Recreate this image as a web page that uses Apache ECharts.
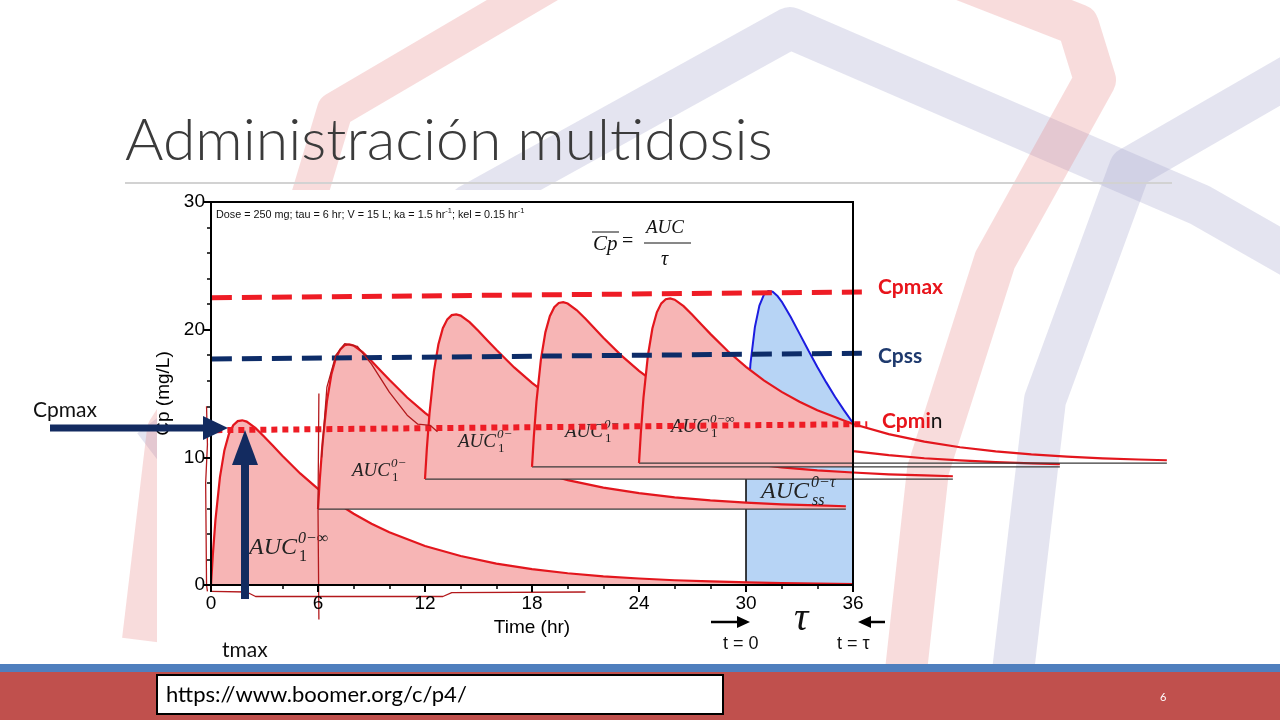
<!DOCTYPE html>
<html>
<head>
<meta charset="utf-8">
<title>Administración multidosis</title>
<script src="https://cdn.jsdelivr.net/npm/echarts@6/dist/echarts.min.js"></script>
<style>
  html, body { margin: 0; padding: 0; background: #fff; }
  #main { width: 1280px; height: 720px; }
</style>
</head>
<body>
<div id="main"></div>
<script>
// horas desde cada dosis y Cp de una dosis única
var offsets = [0, 0.1, 0.25, 0.5, 0.75, 1, 1.25, 1.5, 1.75, 2, 2.5, 3, 3.5, 4, 5, 6, 7, 8, 9, 10,
  12, 14, 16, 18, 20, 22, 24, 26, 28, 29.6, 30, 32, 34, 36];
var singleDose = [0, 2.30, 5.11, 8.43, 10.54, 11.81, 12.51, 12.84, 12.90, 12.80, 12.29, 11.60, 10.86, 10.12, 8.74, 7.53, 6.48, 5.58, 4.80, 4.13,
  3.06, 2.27, 1.68, 1.24, 0.92, 0.68, 0.51, 0.37, 0.28, 0.22, 0.21, 0.15, 0.11, 0.08];

// cada dosis: hora, nivel de base, duracion dibujada
var doseTimes = [0, 6, 12, 18, 24];
var doseBase = [0, 5.95, 8.3, 9.25, 9.55];
var doseEnd = [36, 29.6, 29.6, 29.6, 29.6];

// estado estacionario (30-36 h)
var ssTimes = [30, 30.25, 30.5, 30.75, 31, 31.25, 31.5, 31.75, 32, 32.5, 33, 33.5, 34, 34.5, 35, 35.5, 36];
var ssValues = [12.69, 17.33, 20.21, 21.88, 22.73, 23.03, 22.97, 22.66, 22.20, 21.01, 19.69, 18.37, 17.08, 15.87, 14.73, 13.68, 12.69];

// lineas de referencia
var cpmaxLine = [[0.05, 22.5], [36.5, 22.95]];
var cpssLine = [[0.05, 17.7], [36.5, 18.15]];
var cpminLine = [[0.3, 12.13], [36.8, 12.6]];

// trazos a mano (rojo)
var scribbleBottom = [[0, -0.5], [2, -0.55], [2.5, -0.9], [13, -0.9], [13.5, -0.6], [21, -0.55]];
var scribbleLeft = [[-0.25, 14], [-0.2, 11], [-0.3, 8], [-0.25, 0], [-0.2, -0.5]];
var scribbleDose2 = [[6.05, 15], [6, 6], [6.05, -2.7]];
var scribblePeak = [[6.2, 10], [6.5, 15.5], [7, 18.0], [7.5, 18.9], [8.2, 18.7], [9, 17.3], [10, 15.1], [11, 13.3], [11.6, 12.6], [12.3, 12.5], [12.7, 12.0]];

var RED = '#e3161d';
var NAVY = '#132b60';
var PINK = '#f7b5b5';
var chart = echarts.init(document.getElementById('main'));

function pairs(xs, ys) {
  return xs.map(function (x, i) { return [x, ys[i]]; });
}

function txt(x, y, text, font, fill, z) {
  return { type: 'text', z: z || 30,
    style: { text: text, x: x, y: y, font: font, fill: fill || '#000', verticalAlign: 'middle' } };
}

function auc(x, y, size, sup, sub, w) {
  var f = 'italic ' + size + 'px "Liberation Serif"';
  var fs = 'italic ' + Math.round(size * 0.68) + 'px "Liberation Serif"';
  var fn = Math.round(size * 0.68) + 'px "Liberation Serif"';
  return [
    txt(x, y, 'AUC', f, '#222', 4),
    txt(x + w, y - size * 0.38, sup, fs, '#222', 4),
    txt(x + w + 1, y + size * 0.36, sub, sub === '1' ? fn : fs, '#222', 4)
  ];
}

var band = function (pts, color, w) {
  return { type: 'polyline', z: 0, shape: { points: pts },
    style: { stroke: color, lineWidth: w || 42, fill: 'none', lineJoin: 'round', lineCap: 'butt' } };
};
var GRAY = 'rgba(165,167,205,0.3)';
var ROSE = 'rgba(228,120,120,0.26)';

var graphics = [
  band([[150, 450], [470, 205], [790, 28], [1200, 205], [1300, 262]], GRAY),
  band([[1300, 70], [1130, 168], [1045, 400], [1012, 680]], GRAY),
  band([[565, -25], [335, 110], [305, 210], [165, 430], [140, 640]], ROSE, 36),
  band([[950, -25], [1078, 25], [1095, 80], [995, 260], [928, 470], [905, 680]], ROSE),
  // recuadro blanco de la figura
  { type: 'rect', z: 1, shape: { x: 157, y: 190, width: 728, height: 472 }, style: { fill: '#fff' } },
  // titulo y separador
  { type: 'text', z: 2, x: 125, y: 141, scaleX: 1.015,
    style: { text: 'Administración multidosis', font: '300 58px Lato', fill: '#3b3b3b', verticalAlign: 'middle' } },
  { type: 'line', z: 2, shape: { x1: 125, y1: 183, x2: 1172, y2: 183 }, style: { stroke: '#d2d2d2', lineWidth: 2 } },
  // pie de pagina
  { type: 'rect', z: 1, shape: { x: 0, y: 664, width: 1280, height: 8 }, style: { fill: '#4f7fbe' } },
  { type: 'rect', z: 1, shape: { x: 0, y: 672, width: 1280, height: 48 }, style: { fill: '#c0504d' } },
  { type: 'rect', z: 2, shape: { x: 157, y: 675, width: 566, height: 39 }, style: { fill: '#fff', stroke: '#000', lineWidth: 2 } },
  txt(166, 695, 'https://www.boomer.org/c/p4/', '22px Lato', '#000'),
  txt(1160, 697, '6', '11px Lato', '#fff'),
  // textos dentro de la figura
  { type: 'text', z: 30, style: { x: 216, y: 214, verticalAlign: 'middle',
    text: '{n|Dose = 250 mg; tau = 6 hr; V = 15 L; ka = 1.5 hr}{s|-1}{n|; kel = 0.15 hr}{s|-1}',
    rich: { n: { font: '10.8px "Liberation Sans"', fill: '#111', lineHeight: 14, verticalAlign: 'bottom' },
            s: { font: '7.5px "Liberation Sans"', fill: '#111', lineHeight: 14, verticalAlign: 'top' } } } },
  txt(593, 244, 'Cp', 'italic 21px "Liberation Serif"', '#111'),
  { type: 'line', z: 30, shape: { x1: 592, y1: 232, x2: 619, y2: 232 }, style: { stroke: '#111', lineWidth: 1 } },
  txt(622, 242, '=', '20px "Liberation Serif"', '#111'),
  txt(646, 228, 'AUC', 'italic 19px "Liberation Serif"', '#111'),
  { type: 'line', z: 30, shape: { x1: 644, y1: 243, x2: 691, y2: 243 }, style: { stroke: '#111', lineWidth: 1 } },
  txt(661, 260, 'τ', 'italic 20px "Liberation Serif"', '#111'),
  // etiquetas a la derecha
  txt(878, 287, 'Cpmax', 'bold 21px Lato', '#e8141b'),
  txt(878, 356, 'Cpss', 'bold 21px Lato', '#1f3a6e'),
  { type: 'text', z: 30, style: { x: 882, y: 421, verticalAlign: 'middle', text: '{r|Cpmi}{k|n}',
    rich: { r: { font: 'bold 21px Lato', fill: '#e8141b' }, k: { font: '21px Lato', fill: '#111' } } } },
  // flechas Cpmax y tmax
  txt(33, 410, 'Cpmax', '21px Lato', '#111'),
  { type: 'rect', z: 30, shape: { x: 50, y: 424.5, width: 156, height: 7 }, style: { fill: NAVY } },
  { type: 'polygon', z: 30, shape: { points: [[203, 416], [228, 428], [203, 440]] }, style: { fill: NAVY } },
  { type: 'rect', z: 30, shape: { x: 241, y: 460, width: 8, height: 139 }, style: { fill: NAVY } },
  { type: 'polygon', z: 30, shape: { points: [[232, 465], [245, 430], [258, 465]] }, style: { fill: NAVY } },
  txt(222, 650, 'tmax', '21px Lato', '#111'),
  // tau y flechas del intervalo
  { type: 'line', z: 30, shape: { x1: 711, y1: 622, x2: 740, y2: 622 }, style: { stroke: '#000', lineWidth: 2.5 } },
  { type: 'polygon', z: 30, shape: { points: [[737, 616], [750, 622], [737, 628]] }, style: { fill: '#000' } },
  txt(723, 644, 't = 0', '18px "Liberation Sans"', '#111'),
  txt(794, 619, 'τ', 'italic 40px "Liberation Serif"', '#111'),
  { type: 'line', z: 30, shape: { x1: 868, y1: 622, x2: 885, y2: 622 }, style: { stroke: '#000', lineWidth: 2.5 } },
  { type: 'polygon', z: 30, shape: { points: [[871, 616], [858, 622], [871, 628]] }, style: { fill: '#000' } },
  txt(837, 644, 't = τ', '18px "Liberation Sans"', '#111')
];

graphics = graphics
  .concat(auc(249, 548, 24, '0−∞', '1', 49))
  .concat(auc(352, 471, 19, '0−', '1', 39))
  .concat(auc(458, 442, 19, '0−', '1', 39))
  .concat(auc(565, 432, 19, '0−', '1', 39))
  .concat(auc(671, 427, 19, '0−∞', '1', 39))
  .concat(auc(761, 492, 24, '0−τ', 'ss', 50));

function renderDose(params, api) {
  var k = params.dataIndex;
  var td = doseTimes[k], base = doseBase[k], end = doseEnd[k];
  var curve = [], fill = [], lastT = td;
  for (var i = 0; i < offsets.length; i++) {
    if (offsets[i] > end + 1e-9) break;
    var t = td + offsets[i];
    var p = api.coord([t, base + singleDose[i]]);
    curve.push(p);
    if (t <= 36 + 1e-9) { fill.push(p); lastT = t; }
  }
  fill.push(api.coord([lastT, base]));
  fill.push(api.coord([td, base]));
  var kids = [{ type: 'polygon', shape: { points: fill }, style: { fill: PINK } }];
  if (base > 0) {
    kids.push({ type: 'polyline', shape: { points: [api.coord([td, base]), api.coord([td + end, base])] },
      style: { stroke: '#3a3a3a', lineWidth: 1.2, fill: 'none' } });
  }
  kids.push({ type: 'polyline', shape: { points: curve }, style: { stroke: RED, lineWidth: 2.2, fill: 'none' } });
  return { type: 'group', children: kids };
}

function refLine(data, color, width, dash) {
  return { type: 'line', xAxisIndex: 1, yAxisIndex: 1, data: data, showSymbol: false, symbol: 'none', z: 5,
    silent: true, lineStyle: { color: color, width: width, type: dash, cap: 'butt' } };
}
function scribble(data) {
  return { type: 'line', xAxisIndex: 1, yAxisIndex: 1, data: data, showSymbol: false, symbol: 'none', z: 6,
    silent: true, lineStyle: { color: '#b3191c', width: 1.3 } };
}

var axisFont = { color: '#000', fontFamily: 'Liberation Sans', fontSize: 19 };

var option = {
  animation: false,
  backgroundColor: '#fff',
  graphic: { elements: graphics },
  grid: [
    { left: 211, top: 202, width: 642, height: 383, containLabel: false, outerBoundsMode: 'none',
      show: true, borderColor: '#000', borderWidth: 2, backgroundColor: 'transparent', z: 10 },
    { left: 157.5, top: 202, width: 1016.5, height: 459.6, containLabel: false, outerBoundsMode: 'none' }
  ],
  xAxis: [
    { type: 'value', gridIndex: 0, min: 0, max: 36, interval: 6, z: 10,
      name: 'Time (hr)', nameLocation: 'middle', nameGap: 33, nameTextStyle: axisFont,
      axisLine: { lineStyle: { color: '#000', width: 2 } },
      axisTick: { length: 7, lineStyle: { color: '#000', width: 2 } },
      minorTick: { show: true, splitNumber: 3, length: 4, lineStyle: { color: '#000', width: 1.5 } },
      axisLabel: Object.assign({ margin: 9 }, axisFont),
      splitLine: { show: false } },
    { type: 'value', gridIndex: 1, min: -3, max: 54, show: false }
  ],
  yAxis: [
    { type: 'value', gridIndex: 0, min: 0, max: 30, interval: 10, z: 10,
      name: 'Cp (mg/L)', nameLocation: 'middle', nameGap: 31, nameRotate: 90, nameTextStyle: axisFont,
      axisLine: { show: true, lineStyle: { color: '#000', width: 2 } },
      axisTick: { show: true, length: 7, lineStyle: { color: '#000', width: 2 } },
      minorTick: { show: true, splitNumber: 5, length: 4, lineStyle: { color: '#000', width: 1.5 } },
      axisLabel: Object.assign({ margin: 6 }, axisFont),
      splitLine: { show: false } },
    { type: 'value', gridIndex: 1, min: -6, max: 30, show: false }
  ],
  series: [
    { type: 'line', xAxisIndex: 0, yAxisIndex: 0, data: pairs(ssTimes, ssValues), z: 2, silent: true,
      showSymbol: false, symbol: 'none', lineStyle: { color: '#1c1ce0', width: 2 },
      areaStyle: { color: '#b7d4f5', opacity: 1 } },
    { type: 'line', xAxisIndex: 0, yAxisIndex: 0, data: [[30, 0], [30, 8.3]], z: 2, silent: true,
      showSymbol: false, symbol: 'none', lineStyle: { color: '#000', width: 1.5 } },
    { type: 'custom', xAxisIndex: 1, yAxisIndex: 1, z: 3, silent: true, clip: false,
      data: doseTimes.map(function (t, i) { return [t, doseBase[i]]; }),
      renderItem: renderDose },
    refLine(cpmaxLine, '#ee1c25', 5, [20, 10]),
    refLine(cpssLine, '#0d2c68', 5, [20, 10]),
    refLine(cpminLine, '#ee1c25', 6, [6, 5]),
    scribble(scribbleBottom),
    scribble(scribbleLeft),
    scribble(scribbleDose2),
    scribble(scribblePeak)
  ]
};

chart.setOption(option);
</script>
</body>
</html>
